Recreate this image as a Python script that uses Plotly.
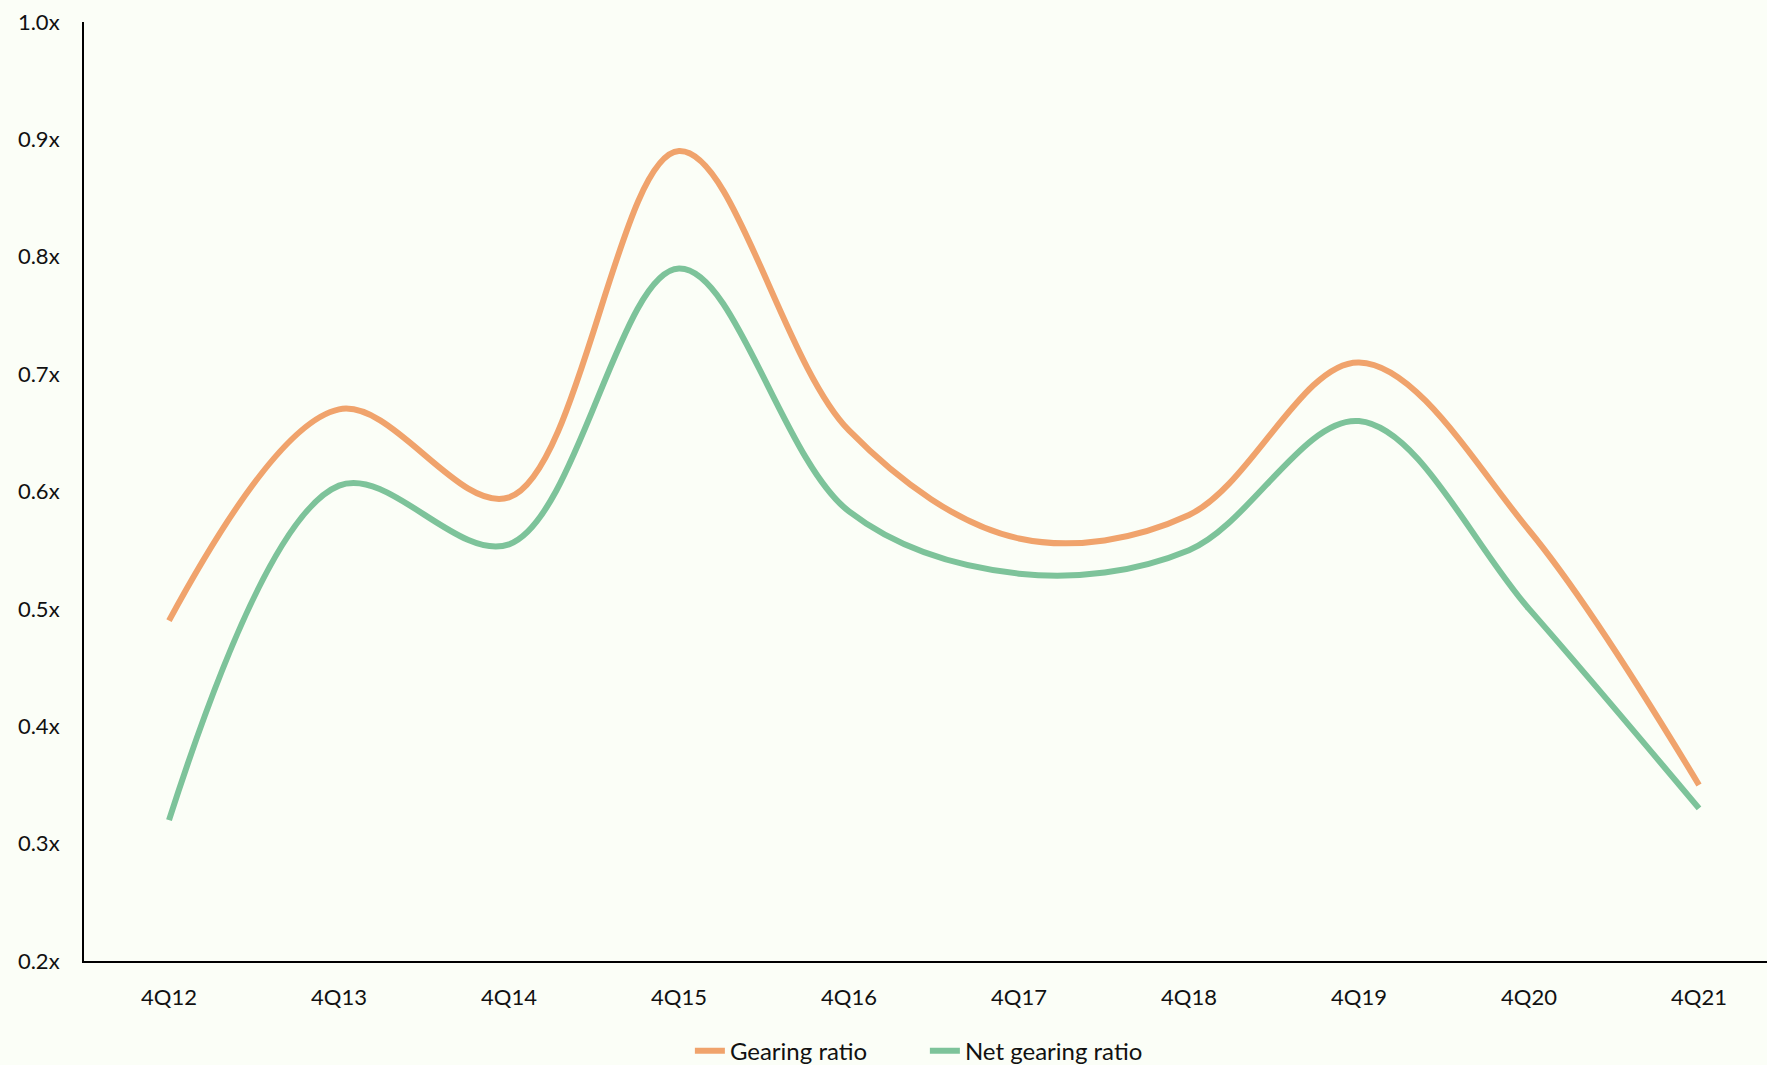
import plotly.graph_objects as go

quarters = ["4Q12", "4Q13", "4Q14", "4Q15", "4Q16", "4Q17", "4Q18", "4Q19", "4Q20", "4Q21"]
gearing = [0.49, 0.67, 0.595, 0.89, 0.652, 0.56, 0.58, 0.71, 0.567, 0.35]
net_gearing = [0.32, 0.605, 0.555, 0.79, 0.583, 0.53, 0.55, 0.66, 0.50, 0.33]

y_ticks = [0.2, 0.3, 0.4, 0.5, 0.6, 0.7, 0.8, 0.9, 1.0]
y_tick_text = [f"{v:.1f}x" for v in y_ticks]

ORANGE = "#F0A36C"
GREEN = "#7DC39A"
BG = "#FBFEF7"
FONT = "Lato, 'Open Sans', sans-serif"

fig = go.Figure()
fig.add_trace(go.Scatter(
    x=quarters, y=gearing, name="Gearing ratio", mode="lines",
    line=dict(color=ORANGE, width=6, shape="spline", smoothing=1.0),
))
fig.add_trace(go.Scatter(
    x=quarters, y=net_gearing, name="Net gearing ratio", mode="lines",
    line=dict(color=GREEN, width=6, shape="spline", smoothing=1.0),
))

fig.update_layout(
    width=1767, height=1065,
    margin=dict(l=84, r=0, t=22, b=104, autoexpand=False),
    paper_bgcolor=BG, plot_bgcolor=BG,
    font=dict(family=FONT, size=22, color="#111111"),
    showlegend=True,
    legend=dict(
        orientation="h", x=0.36, xanchor="left", y=-0.096, yanchor="middle",
        font=dict(size=24), itemwidth=30, entrywidth=190, entrywidthmode="pixels",
        bgcolor="rgba(0,0,0,0)",
    ),
    xaxis=dict(
        type="category", range=[-0.5, 9.4],
        showgrid=False, zeroline=False,
        showline=True, linecolor="#000000", linewidth=2,
        ticks="", ticklabelstandoff=16, automargin=False,
    ),
    yaxis=dict(
        range=[0.2, 1.0], tickvals=y_ticks, ticktext=y_tick_text,
        showgrid=False, zeroline=False,
        showline=True, linecolor="#000000", linewidth=2,
        ticks="", ticklabelstandoff=18, automargin=False,
    ),
)

fig.write_html("out.html")
